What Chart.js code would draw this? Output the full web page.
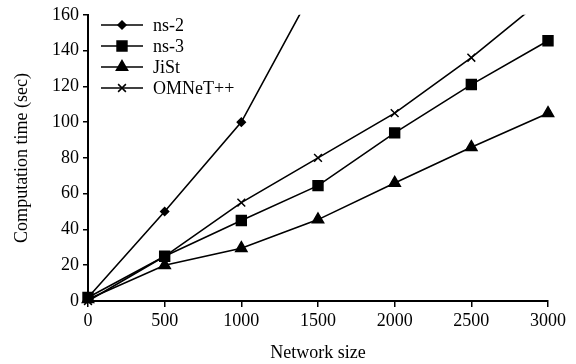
<!DOCTYPE html>
<html>
<head>
<meta charset="utf-8">
<script src="https://cdn.jsdelivr.net/npm/chart.js@4.4.0/dist/chart.umd.min.js"></script>
<style>
  html, body { margin: 0; padding: 0; background: #fff; }
</style>
</head>
<body>
<canvas id="timeChart" width="576" height="364"></canvas>
<script>
// Data
const networkSize = [0, 500, 1000, 1500, 2000, 2500, 3000];
const ns2Time = [2, 50, 100, 179];
const ns3Time = [2, 25, 45, 64.5, 94, 121, 145.5];
const jistTime = [1, 20, 29.5, 45.5, 66, 86, 105];
const omnetTime = [0, 25, 55, 80, 105, 136, 171];
const seriesNames = ["ns-2", "ns-3", "JiSt", "OMNeT++"];
const yTickMax = 160;
const yTickStep = 20;
const xTickMax = 3000;
const xTickStep = 500;

const FONT = "'Liberation Serif', 'Times New Roman', serif";

function toPoints(values) {
  return values.map((v, i) => ({ x: networkSize[i], y: v }));
}

const markerStyles = [
  { pointStyle: "rectRot", radius: 4 },
  { pointStyle: "rect", radius: 7 },
  { pointStyle: "triangle", radius: 6.5 },
  { pointStyle: "crossRot", radius: 5.5 }
];

function makeDataset(i, values) {
  return {
    label: seriesNames[i],
    data: toPoints(values),
    borderColor: "#000",
    backgroundColor: "#000",
    borderWidth: 1.6,
    pointStyle: markerStyles[i].pointStyle,
    pointRadius: markerStyles[i].radius,
    pointBorderWidth: 1.5,
    pointBackgroundColor: "#000",
    pointBorderColor: "#000",
    tension: 0,
    clip: { left: 10, top: 0, right: 10, bottom: 10 }
  };
}

// Legend drawn as line + marker, like the figure
const lineLegend = {
  id: "lineLegend",
  afterDraw(chart) {
    const ctx = chart.ctx;
    const rows = [25, 46, 67, 88];
    ctx.save();
    chart.data.datasets.forEach((ds, i) => {
      const y = rows[i];
      ctx.strokeStyle = "#000";
      ctx.lineWidth = 1.6;
      ctx.beginPath();
      ctx.moveTo(101, y);
      ctx.lineTo(143, y);
      ctx.stroke();
      ctx.fillStyle = "#000";
      ctx.lineWidth = 1.5;
      Chart.helpers.drawPoint(ctx, {
        pointStyle: ds.pointStyle,
        radius: ds.pointRadius,
        rotation: 0,
        borderWidth: 1.5
      }, 122, y);
      ctx.font = "18px " + FONT;
      ctx.textBaseline = "middle";
      ctx.textAlign = "left";
      ctx.fillText(ds.label, 153, y + 1);
    });
    ctx.restore();
  }
};

const axisGrid = {
  display: true,
  drawOnChartArea: false,
  drawTicks: true,
  tickLength: 6,
  color: "#000",
  lineWidth: 1.5
};

const ctx = document.getElementById("timeChart");
const timeChart = new Chart(ctx, {
  type: "line",
  data: {
    datasets: [
      makeDataset(0, ns2Time),
      makeDataset(1, ns3Time),
      makeDataset(2, jistTime),
      makeDataset(3, omnetTime)
    ]
  },
  options: {
    responsive: false,
    animation: false,
    devicePixelRatio: 1,
    layout: { padding: { top: 14, right: 28, bottom: 0, left: 0 } },
    plugins: {
      legend: { display: false },
      tooltip: { enabled: false }
    },
    scales: {
      x: {
        type: "linear",
        min: 0,
        max: xTickMax,
        grid: axisGrid,
        border: { display: true, color: "#000", width: 2 },
        ticks: {
          stepSize: xTickStep,
          color: "#000",
          font: { family: FONT, size: 18 },
          padding: 3,
          maxRotation: 0,
          callback: (value) => String(value)
        },
        title: {
          display: true,
          text: "Network size",
          color: "#000",
          font: { family: FONT, size: 18 },
          padding: { top: 0, bottom: 0 }
        },
        afterFit(scale) { scale.height = 63; }
      },
      y: {
        min: 0,
        max: yTickMax,
        grid: Object.assign({}, axisGrid, { tickLength: 5 }),
        border: { display: true, color: "#000", width: 2 },
        ticks: {
          stepSize: yTickStep,
          color: "#000",
          font: { family: FONT, size: 18 },
          padding: 4,
          callback: (value) => String(value)
        },
        title: {
          display: true,
          text: "Computation time (sec)",
          color: "#000",
          font: { family: FONT, size: 18 },
          padding: { top: 11, bottom: 0 }
        },
        afterFit(scale) { scale.width = 88; }
      }
    }
  },
  plugins: [lineLegend]
});
</script>
</body>
</html>
